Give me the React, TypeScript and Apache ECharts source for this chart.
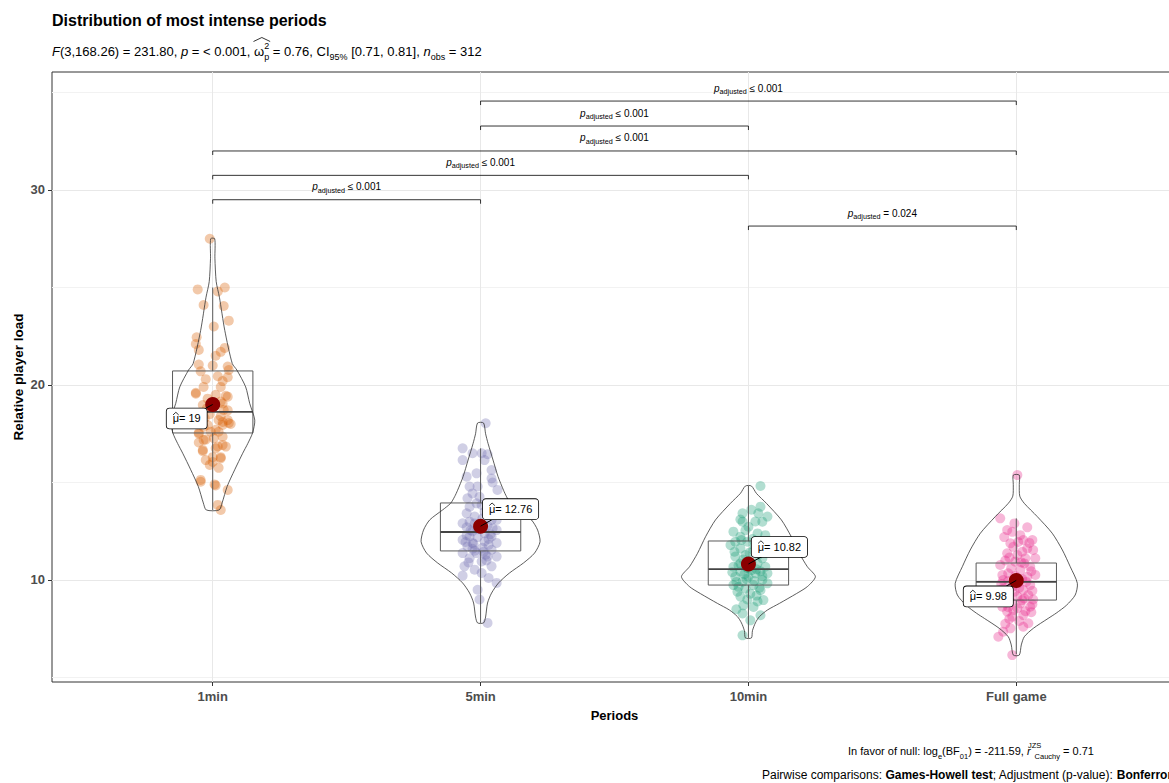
import React, { useEffect, useRef } from 'react';
import * as echarts from 'echarts';

const FONT = '"Liberation Sans", Arial, Helvetica, sans-serif';

const periods = ['1min', '5min', '10min', 'Full game'];
const yTicks = [10, 20, 30];
const yMinor = [5, 15, 25, 35];

const means = [19, 12.76, 10.82, 9.98];
const meanLabels = ['19', '12.76', '10.82', '9.98'];

const whiskerLow = [13.59, 7.8, 7.03, 6.2];
const q1 = [17.54, 11.49, 9.74, 8.97];
const median = [18.62, 12.46, 10.56, 9.9];
const q3 = [20.72, 13.95, 12.0, 10.87];
const whiskerHigh = [25.0, 16.75, 14.82, 13.16];

// violin profiles: [value, half width in category units]
const violin1min: [number, number][] = [[27.5, 0.0075], [26.5, 0.0082], [25.3, 0.013], [24.5, 0.025], [22.8, 0.045], [21.1, 0.073], [20.77, 0.09], [19.9, 0.123], [19.06, 0.138], [18.2, 0.157], [17.55, 0.149], [17.0, 0.131], [16.5, 0.112], [15.65, 0.082], [14.8, 0.054], [13.95, 0.035], [13.59, 0.024]];
const violin5min: [number, number][] = [[18.05, 0.0112], [17.5, 0.0187], [17.0, 0.028], [16.15, 0.0466], [15.3, 0.0653], [14.6, 0.0858], [14.27, 0.097], [13.93, 0.112], [13.59, 0.142], [13.08, 0.19], [12.56, 0.213], [11.96, 0.222], [11.38, 0.2015], [10.87, 0.16], [10.36, 0.108], [9.85, 0.0672], [9.33, 0.041], [8.82, 0.026], [8.1, 0.0187], [7.8, 0.0112]];
const violin10min: [number, number][] = [[14.82, 0.0112], [14.44, 0.0299], [13.93, 0.0672], [13.08, 0.123], [12.22, 0.16], [11.37, 0.19], [10.68, 0.22], [10.17, 0.25], [9.66, 0.22], [9.3, 0.179], [8.8, 0.1157], [8.46, 0.0709], [8.12, 0.041], [7.8, 0.026], [7.4, 0.015], [7.03, 0.0112]];
const violinFull: [number, number][] = [[15.38, 0.0112], [14.9, 0.0112], [14.3, 0.013], [13.93, 0.0299], [13.25, 0.0784], [12.4, 0.134], [11.54, 0.172], [10.68, 0.2015], [9.83, 0.228], [9.23, 0.22], [8.7, 0.187], [8.3, 0.149], [8.03, 0.119], [7.52, 0.0634], [7.09, 0.0299], [6.67, 0.0187], [6.15, 0.0112]];

// jittered observations: [horizontal jitter in category units, value]
const points1min: [number, number][] = [
  [-0.011, 27.5],
  [-0.056, 24.9], [0.019, 24.8], [0.045, 25.0],
  [-0.034, 24.1], [0.041, 24.05], [0.06, 23.3], [0.004, 23.0],
  [-0.06, 22.45], [-0.063, 22.1], [-0.052, 21.8], [0.045, 21.9],
  [0.011, 21.5], [0.03, 21.7], [-0.052, 21.05], [0, 21.0], [0.056, 20.95],
  [-0.045, 20.7], [0.06, 20.77], [0.019, 20.45], [0.056, 20.4], [-0.026, 20.3], [0.037, 20.2],
  [-0.034, 19.9], [0.03, 19.9], [-0.063, 19.6], [-0.063, 19.55], [0.049, 19.45], [0.011, 19.5], [0.056, 19.4], [0.03, 19.15], [-0.019, 19.3],
  [-0.037, 18.97], [0.037, 19.05], [0.056, 18.7], [0.041, 18.72], [-0.022, 18.8], [0.03, 18.4], [-0.011, 18.5], [0.022, 18.2], [0.056, 18.2], [0.06, 18.05], [0.037, 18.1], [0.067, 18.0],
  [-0.019, 17.95], [0.037, 17.95], [-0.034, 17.85], [0.011, 17.7], [-0.052, 17.5], [-0.007, 17.6], [0.022, 17.6], [-0.052, 17.55],
  [-0.034, 17.18], [-0.026, 17.2], [0.004, 17.27], [0.037, 17.35], [-0.052, 17.05], [0.037, 16.92], [0.019, 16.85], [0.049, 16.84], [0.011, 16.75],
  [-0.037, 16.6], [-0.037, 16.67], [0, 16.3], [0.03, 16.3], [0.03, 16.24], [-0.026, 16.15], [0, 16.05], [0.022, 15.75], [-0.011, 15.9],
  [-0.045, 15.13], [-0.045, 15.04], [0.011, 14.85], [0.056, 14.62], [0.019, 13.85], [0.03, 13.59], [0.007, 14.9], [-0.03, 18.3],
];
const points5min: [number, number][] = [
  [0.019, 18.04],
  [-0.067, 16.75], [-0.03, 16.5], [0.004, 16.5], [0.026, 16.45], [-0.067, 16.15], [0.015, 16.15],
  [0.041, 15.64], [-0.015, 15.47], [-0.052, 15.3], [0.041, 15.21], [0.045, 15.0],
  [-0.041, 14.79], [0.063, 14.62], [-0.03, 14.44], [-0.004, 14.27], [-0.049, 14.19],
  [-0.015, 13.93], [-0.041, 13.76], [0.004, 13.85], [0.026, 13.59], [-0.052, 13.42], [-0.022, 13.25], [0.015, 13.5],
  [-0.067, 12.91], [-0.041, 12.99], [0.041, 13.08], [0.026, 12.8], [-0.052, 12.7], [0.06, 13.08], [0.06, 12.56], [-0.03, 12.5], [0.015, 12.4], [-0.011, 12.6], [-0.022, 12.9],
  [-0.041, 12.23], [0.041, 12.23], [-0.011, 12.2], [-0.067, 12.06], [0.015, 11.98], [-0.03, 11.9], [0.06, 11.9], [0.03, 12.1], [-0.052, 12.3],
  [-0.049, 11.72], [0.007, 11.65], [0.041, 11.55], [-0.067, 11.38], [-0.015, 11.38], [0.026, 11.2], [-0.041, 11.12], [0.06, 11.2], [-0.022, 11.5], [0.03, 11.8], [-0.03, 11.6], [0.011, 11.45],
  [0.004, 10.95], [-0.06, 10.7], [0.041, 10.7], [-0.022, 10.53], [0.004, 10.36], [-0.067, 10.22], [0.022, 11.0], [-0.045, 10.9],
  [0.06, 9.85], [-0.004, 9.0], [0.026, 7.8], [-0.011, 9.5], [0.03, 10.1],
  [-0.007, 12.75], [0.037, 12.35], [-0.056, 11.95], [0.019, 11.3], [-0.026, 11.85], [0.045, 12.65], [-0.037, 12.55], [0.007, 13.15], [-0.011, 14.8],
];
const points10min: [number, number][] = [
  [0.045, 14.82], [-0.022, 13.42], [0.045, 13.76], [0.037, 13.42], [-0.022, 12.99], [0.052, 12.99], [0.071, 13.25], [0, 12.73], [-0.056, 12.48], [0.034, 12.39], [-0.03, 12.22], [0.063, 12.3],
  [-0.049, 11.96], [-0.004, 11.96], [-0.067, 11.79], [0.052, 11.87], [-0.03, 11.62], [0.019, 11.54], [-0.011, 11.28], [-0.049, 11.2], [0.052, 11.11],
  [-0.03, 10.85], [0.034, 10.85], [-0.056, 10.68], [0.063, 10.68], [-0.004, 10.6], [-0.03, 10.43], [0.026, 10.34], [0.071, 10.34], [-0.049, 10.17], [0, 10.17], [0.052, 10.0],
  [-0.022, 9.91], [-0.056, 9.74], [0.019, 9.74], [0.071, 9.83], [-0.011, 9.57], [-0.041, 9.4], [0.045, 9.48], [0.007, 9.3], [-0.03, 9.15], [0.056, 8.97],
  [-0.019, 8.7], [0.019, 8.62], [-0.022, 8.28], [0.045, 8.19], [0.007, 7.93], [-0.022, 7.16],
  [0.011, 10.5], [-0.015, 10.3], [0.03, 10.55], [-0.037, 10.75], [0.045, 10.45], [-0.007, 10.05], [0.022, 9.95], [-0.045, 9.9], [0.011, 10.9], [-0.019, 11.05], [0.037, 11.3], [-0.026, 12.05], [0.015, 12.1], [-0.011, 12.55], [0.026, 13.0], [-0.037, 9.65], [0.03, 9.2], [0.052, 10.2], [-0.06, 10.4], [0.004, 11.4], [0.022, 11.75], [-0.052, 11.45], [0.041, 9.6], [-0.004, 9.0], [0.06, 11.6], [-0.03, 13.1], [0.011, 13.6], [0.034, 8.9], [-0.045, 8.5], [-0.004, 10.65],
];
const pointsFull: [number, number][] = [
  [0.004, 15.38], [-0.06, 13.16], [-0.034, 12.56], [-0.015, 12.47], [0.026, 12.05], [0.06, 12.05], [-0.022, 11.88], [0.041, 11.62], [0.063, 11.54], [0.004, 11.28], [0.071, 11.11], [-0.034, 11.37], [0.034, 11.11], [-0.004, 10.94], [-0.06, 10.77], [0.052, 10.68], [0.015, 10.51], [0.071, 10.26], [-0.03, 10.34], [0.041, 10.17], [-0.049, 10.0], [0.007, 9.83], [0.052, 9.74], [-0.015, 9.66], [0.026, 9.49], [-0.041, 9.32], [0.004, 9.15], [0.045, 9.23], [0.022, 8.97], [-0.022, 8.89], [-0.052, 8.63], [0.052, 8.63], [0.004, 8.55], [-0.034, 8.38], [0.026, 8.2], [-0.015, 8.12], [0.045, 7.78], [-0.022, 7.52], [-0.049, 7.35], [-0.067, 7.09], [-0.015, 6.15],
  [-0.007, 12.9], [0.015, 12.3], [-0.045, 12.2], [0.049, 11.9], [-0.011, 11.7], [0.022, 11.45], [-0.041, 11.0], [0.03, 10.85], [-0.019, 10.6], [0.056, 10.45], [-0.004, 10.2], [0.022, 10.05], [-0.03, 9.95], [0.037, 9.9], [0.011, 9.6], [-0.052, 9.55], [0.06, 9.45], [-0.007, 9.4], [0.03, 9.05], [-0.037, 9.1], [0.015, 8.8], [0.06, 8.75], [-0.011, 8.45], [0.034, 8.4], [-0.026, 8.0], [0.011, 7.9], [-0.041, 7.75], [0.056, 8.35], [0.019, 10.9], [-0.026, 11.15], [0.041, 12.7], [-0.052, 10.25], [0.007, 11.95], [0.063, 9.0], [-0.03, 8.6], [0.026, 7.6], [-0.056, 9.8],
];

// pairwise comparison brackets
const bracketFrom = [1, 1, 1, 2, 2, 3];
const bracketTo = [2, 3, 4, 3, 4, 4];
const bracketY = [29.5, 30.75, 32.0, 33.28, 34.56, 28.15];
const bracketLabel = ['\u2264 0.001', '\u2264 0.001', '\u2264 0.001', '\u2264 0.001', '\u2264 0.001', '= 0.024'];

const pointColors = ['rgba(217,95,2,0.42)', 'rgba(117,112,179,0.42)', 'rgba(27,158,119,0.42)', 'rgba(231,41,138,0.42)'];
const labelDx = [-26, 30, 31, -28];
const labelDy = [14, -17, -17, 16];

function App() {
  const ref = useRef<HTMLDivElement>(null);
  useEffect(() => {
    const chart = echarts.init(ref.current as HTMLDivElement, null, { renderer: 'svg' });
    const violins = [violin1min, violin5min, violin10min, violinFull];
    const groups = [points1min, points5min, points10min, pointsFull];

    const ctx = document.createElement('canvas').getContext('2d') as CanvasRenderingContext2D;
    const tw = (t: string, font: string) => {
      ctx.font = font;
      return ctx.measureText(t).width;
    };
    const F = 'Liberation Sans, Arial, sans-serif';

    const scatterSeries: any[] = groups.map((pts, gi) => ({
      type: 'scatter',
      data: pts.map(([j, v]) => [gi + 1 + j, v]),
      symbolSize: 10,
      itemStyle: { color: pointColors[gi] },
      silent: true,
      z: 2,
    }));
    scatterSeries[0].markLine = {
      silent: true,
      symbol: ['none', 'none'],
      label: { show: false },
      z: 0,
      data: [
        ...yMinor.map((v) => ({ yAxis: v, lineStyle: { color: '#F2F2F2', width: 1, type: 'solid' } })),
        ...yTicks.map((v) => ({ yAxis: v, lineStyle: { color: '#E8E8E8', width: 1, type: 'solid' } })),
        ...periods.map((_, i) => ({ xAxis: i + 1, lineStyle: { color: '#E8E8E8', width: 1, type: 'solid' } })),
      ],
    };

    const bracketRich = {
      p: { fontFamily: FONT, fontSize: 10, fontStyle: 'italic', lineHeight: 14, fill: '#000' },
      s: { fontFamily: FONT, fontSize: 7.2, lineHeight: 8, verticalAlign: 'bottom', fill: '#000' },
      v: { fontFamily: FONT, fontSize: 10, lineHeight: 14, fill: '#000' },
    };

    // subtitle hat position over omega
    const subFs = 13;
    const subX = 52;
    const prefixW =
      tw('F', `italic ${subFs}px ${F}`) +
      tw('(3,168.26) = 231.80, ', `${subFs}px ${F}`) +
      tw('p', `italic ${subFs}px ${F}`) +
      tw(' = < 0.001, ', `${subFs}px ${F}`);
    const omegaW = tw('\u03C9', `${subFs}px ${F}`);
    const supW = tw('2', `9px ${F}`);
    const hatL = subX + prefixW - 0.5;
    const hatR = subX + prefixW + omegaW + supW + 1;

    const option: any = {
      animation: false,
      grid: {
        left: 52, top: 72, right: 3, bottom: 101,
        show: true, borderColor: '#333', borderWidth: 1, backgroundColor: 'transparent',
        containLabel: false, outerBoundsMode: 'none',
      },
      xAxis: {
        type: 'value', min: 0.4, max: 4.6,
        axisLine: { show: false },
        splitLine: { show: false },
        axisTick: { show: true, customValues: [1, 2, 3, 4], length: 4, lineStyle: { color: '#333' } },
        axisLabel: {
          customValues: [1, 2, 3, 4],
          formatter: (v: number) => periods[Math.round(v) - 1] || '',
          color: '#4D4D4D', fontWeight: 'bold', fontSize: 13, fontFamily: FONT, margin: 8,
        },
        name: 'Periods', nameLocation: 'middle', nameGap: 27, nameMoveOverlap: false,
        nameTextStyle: { fontWeight: 'bold', fontSize: 13, color: '#000', fontFamily: FONT },
      },
      yAxis: {
        type: 'value', min: 4.769, max: 36.05,
        axisLine: { show: false },
        splitLine: { show: false },
        axisTick: { show: true, customValues: yTicks, length: 4, lineStyle: { color: '#333' } },
        axisLabel: { customValues: yTicks, color: '#4D4D4D', fontWeight: 'bold', fontSize: 13, fontFamily: FONT, margin: 7 },
        name: 'Relative player load', nameLocation: 'middle', nameGap: 27, nameMoveOverlap: false,
        nameTextStyle: { fontWeight: 'bold', fontSize: 13.5, color: '#000', fontFamily: FONT },
      },
      series: [
        ...scatterSeries,
        {
          type: 'custom', silent: true, z: 3,
          data: periods.map((_, i) => [i + 1, median[i]]),
          renderItem: (params: any, api: any) => {
            const i = params.dataIndex;
            const x = i + 1;
            const hw = 0.15;
            const tl = api.coord([x - hw, q3[i]]);
            const br = api.coord([x + hw, q1[i]]);
            const mL = api.coord([x - hw, median[i]]);
            const mR = api.coord([x + hw, median[i]]);
            const wHi = api.coord([x, whiskerHigh[i]]);
            const wLo = api.coord([x, whiskerLow[i]]);
            const qTop = api.coord([x, q3[i]]);
            const qBot = api.coord([x, q1[i]]);
            const st = { stroke: '#5A5A5A', lineWidth: 1, fill: 'none' };
            return {
              type: 'group',
              children: [
                { type: 'line', shape: { x1: wHi[0], y1: wHi[1], x2: qTop[0], y2: qTop[1] }, style: st },
                { type: 'line', shape: { x1: qBot[0], y1: qBot[1], x2: wLo[0], y2: wLo[1] }, style: st },
                { type: 'rect', shape: { x: tl[0], y: tl[1], width: br[0] - tl[0], height: br[1] - tl[1] }, style: st },
                { type: 'line', shape: { x1: mL[0], y1: mL[1], x2: mR[0], y2: mR[1] }, style: { stroke: '#444', lineWidth: 1.8 } },
              ],
            };
          },
        },
        {
          type: 'custom', silent: true, z: 4,
          data: periods.map((_, i) => [i + 1, median[i]]),
          renderItem: (params: any, api: any) => {
            const i = params.dataIndex;
            const x = i + 1;
            const prof = violins[i];
            const right = prof.map(([v, w]) => api.coord([x + w, v]));
            const left = prof.slice().reverse().map(([v, w]) => api.coord([x - w, v]));
            return {
              type: 'polygon',
              shape: { points: right.concat(left), smooth: 0.25 },
              style: { fill: 'none', stroke: '#333', lineWidth: 0.8 },
            };
          },
        },
        {
          type: 'scatter', silent: true, z: 6,
          data: means.map((m, i) => [i + 1, m]),
          symbolSize: 15,
          itemStyle: { color: '#8B0000', opacity: 1 },
        },
        {
          type: 'custom', silent: true, z: 7,
          data: means.map((m, i) => [i + 1, m]),
          renderItem: (params: any, api: any) => {
            const i = params.dataIndex;
            const p = api.coord([i + 1, means[i]]);
            const dx = labelDx[i];
            const dy = labelDy[i];
            const cx = p[0] + dx;
            const cy = p[1] + dy;
            const txt = '\u03BC= ' + meanLabels[i];
            const W = tw(txt, `11px ${F}`);
            const muW = tw('\u03BC', `11px ${F}`);
            const muL = cx - W / 2;
            return {
              type: 'group',
              children: [
                { type: 'line', shape: { x1: p[0], y1: p[1], x2: p[0] + dx * 0.7, y2: p[1] + dy * 0.7 }, style: { stroke: '#000', lineWidth: 1 } },
                {
                  type: 'text', x: cx, y: cy,
                  style: {
                    text: txt,
                    fontFamily: FONT, fontSize: 11, lineHeight: 12, fill: '#000',
                    align: 'center', verticalAlign: 'middle',
                    backgroundColor: '#fff', borderColor: '#000', borderWidth: 0.8, borderRadius: 3,
                    padding: [5, 6, 3, 6],
                  },
                },
                {
                  type: 'polyline',
                  shape: { points: [[muL + 0.3, cy - 3.5], [muL + muW / 2, cy - 6.2], [muL + muW - 0.3, cy - 3.5]] },
                  style: { stroke: '#000', lineWidth: 0.8, fill: 'none' },
                },
              ],
            };
          },
        },
        {
          type: 'custom', silent: true, z: 8,
          data: bracketY.map((y, i) => [bracketFrom[i], y]),
          renderItem: (params: any, api: any) => {
            const i = params.dataIndex;
            const a = api.coord([bracketFrom[i], bracketY[i]]);
            const b = api.coord([bracketTo[i], bracketY[i]]);
            return {
              type: 'group',
              children: [
                {
                  type: 'polyline',
                  shape: { points: [[a[0], a[1] + 4], [a[0], a[1]], [b[0], b[1]], [b[0], b[1] + 4]] },
                  style: { stroke: '#000', lineWidth: 0.8, fill: 'none' },
                },
                {
                  type: 'text', x: (a[0] + b[0]) / 2, y: a[1] - 6,
                  style: {
                    text: '{p|p}{s|adjusted}{v| ' + bracketLabel[i] + '}',
                    align: 'center', verticalAlign: 'bottom',
                    rich: bracketRich,
                  },
                },
              ],
            };
          },
        },
      ],
      graphic: [
        {
          type: 'text', x: 52, y: 20,
          style: { text: 'Distribution of most intense periods', fontFamily: FONT, fontSize: 16, fontWeight: 'bold', fill: '#000', verticalAlign: 'middle' },
        },
        {
          type: 'text', x: subX, y: 51,
          style: {
            text: '{i|F}{n|(3,168.26) = 231.80, }{i|p}{n| = < 0.001, }{n|\u03C9}{sup|2}{sub|p}{n| = 0.76, CI}{sub|95%}{n| [0.71, 0.81], }{i|n}{sub|obs}{n| = 312}',
            verticalAlign: 'middle',
            rich: {
              n: { fontFamily: FONT, fontSize: subFs, lineHeight: 20, fill: '#000' },
              i: { fontFamily: FONT, fontSize: subFs, fontStyle: 'italic', lineHeight: 20, fill: '#000' },
              sub: { fontFamily: FONT, fontSize: 9, lineHeight: 10, verticalAlign: 'bottom', fill: '#000' },
              sup: { fontFamily: FONT, fontSize: 9, lineHeight: 10, verticalAlign: 'top', width: 0, fill: '#000' },
            },
          },
        },
        {
          type: 'polyline',
          shape: { points: [[hatL, 41.5], [(hatL + hatR) / 2, 37.5], [hatR, 41.5]] },
          style: { stroke: '#000', lineWidth: 0.8, fill: 'none' },
        },
        {
          type: 'text', x: 971, y: 751,
          style: {
            text: '{n|In favor of null: log}{sub|e}{n|(BF}{sub|01}{n|) = -211.59, }{i|r}{sup|JZS}{sub|Cauchy}{n| = 0.71}',
            align: 'center', verticalAlign: 'middle',
            rich: {
              n: { fontFamily: FONT, fontSize: 11, lineHeight: 19, fill: '#000' },
              i: { fontFamily: FONT, fontSize: 11, fontStyle: 'italic', lineHeight: 19, fill: '#000' },
              sub: { fontFamily: FONT, fontSize: 7.5, lineHeight: 8, verticalAlign: 'bottom', fill: '#000' },
              sup: { fontFamily: FONT, fontSize: 7.5, lineHeight: 8, verticalAlign: 'top', width: 0, padding: [0, 0, 0, 4], fill: '#000' },
            },
          },
        },
        {
          type: 'text', x: 762, y: 775,
          style: {
            text: '{n|Pairwise comparisons: }{b|Games-Howell test}{n|; Adjustment (p-value): }{b|Bonferroni}',
            verticalAlign: 'middle',
            rich: {
              n: { fontFamily: FONT, fontSize: 12, lineHeight: 15, fill: '#000' },
              b: { fontFamily: FONT, fontSize: 12, fontWeight: 'bold', lineHeight: 15, fill: '#000' },
            },
          },
        },
      ],
    };
    chart.setOption(option);
    return () => chart.dispose();
  }, []);

  return (
    <div style={{ position: 'fixed', left: 0, top: 0, width: 1169, height: 783, overflow: 'hidden', background: '#fff' }}>
      <div ref={ref} style={{ width: 1180, height: 783 }} />
    </div>
  );
}

export default App;
